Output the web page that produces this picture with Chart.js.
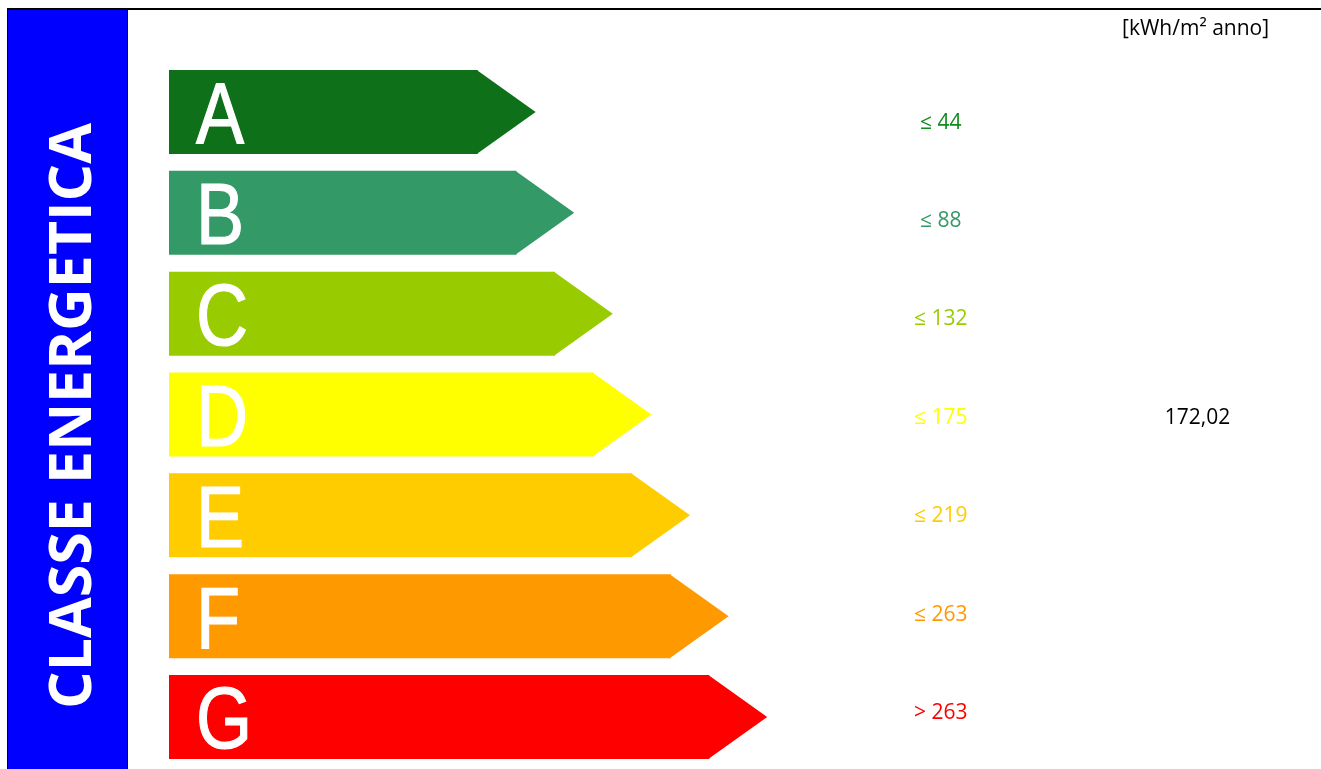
<!DOCTYPE html>
<html>
<head>
<meta charset="utf-8">
<script src="https://cdn.jsdelivr.net/npm/chart.js@4.4.1/dist/chart.umd.min.js"></script>
<style>
html, body { margin: 0; padding: 0; background: #fff; width: 1321px; height: 769px; overflow: hidden; }
#topline { position: absolute; left: 7px; top: 8px; width: 1314px; height: 2px; background: #000; }
#panel { position: absolute; left: 7px; top: 10px; width: 119px; height: 759px; background: #0000ff; border-left: 1px solid #000; border-right: 1px solid #000; }
#panel span { position: absolute; left: 60px; top: 406px; transform: translate(-50%, -50%) rotate(-90deg); white-space: nowrap; color: #fff; font: bold 59px 'Open Sans'; }
#wrap { position: absolute; left: 128px; top: 10px; width: 1193px; height: 759px; }
</style>
</head>
<body>
<div id="topline"></div>
<div id="panel"><span>CLASSE ENERGETICA</span></div>
<div id="wrap"><canvas id="energyChart" width="1193" height="759"></canvas></div>
<script>
var classes = ['A', 'B', 'C', 'D', 'E', 'F', 'G'];
var classLengths = [8, 9, 10, 11, 12, 13, 14];
var thresholdLabels = ['≤ 44', '≤ 88', '≤ 132', '≤ 175', '≤ 219', '≤ 263', '> 263'];
var classColors = ['#0e711a', '#339966', '#99cc00', '#ffff00', '#ffcc00', '#ff9900', '#ff0000'];
var labelColors = ['#128a1e', '#339966', '#99cc00', '#ffff00', '#ffcc00', '#ff9900', '#ff0000'];
var buildingValue = '172,02';
var buildingClass = 'D';
var unitLabel = '[kWh/m² anno]';

// the text column rows are a bit tighter than the bars (in category units)
var labelRowStart = 0.105, labelRowStep = 0.976;

// arrow head on the end of every bar, and the class letter inside it
var arrowTips = {
    id: 'arrowTips',
    afterDatasetsDraw: function(chart) {
        var ctx = chart.ctx, x = chart.scales.x;
        var tip = x.getPixelForValue(1.5) - x.getPixelForValue(0);
        chart.getDatasetMeta(0).data.forEach(function(bar, i) {
            var h = bar.height / 2;
            ctx.save();
            ctx.fillStyle = classColors[i];
            ctx.beginPath();
            ctx.moveTo(bar.x - 1, bar.y - h);
            ctx.lineTo(bar.x + tip, bar.y);
            ctx.lineTo(bar.x - 1, bar.y + h);
            ctx.closePath();
            ctx.fill();
            // narrow letter: Liberation Sans squeezed like Arial Narrow
            ctx.fillStyle = '#fff';
            ctx.strokeStyle = '#fff';
            ctx.lineWidth = 1.2;
            ctx.lineJoin = 'miter';
            ctx.font = "88px 'Liberation Sans', Arial, sans-serif";
            ctx.textAlign = 'left';
            ctx.textBaseline = 'alphabetic';
            ctx.translate(bar.base + 27, bar.y + 31.5);
            ctx.scale(0.82, 1);
            ctx.fillText(classes[i], 0, 0);
            ctx.strokeText(classes[i], 0, 0);
            ctx.restore();
        });
    }
};

var sideLabels = {
    id: 'sideLabels',
    afterDraw: function(chart) {
        var ctx = chart.ctx, x = chart.scales.x, y = chart.scales.y;
        var rowY = function(i) { return y.getPixelForValue(labelRowStart + i * labelRowStep); };
        ctx.save();
        ctx.font = '21px "Open Sans"';
        ctx.textAlign = 'center';
        ctx.textBaseline = 'middle';
        thresholdLabels.forEach(function(t, i) {
            ctx.fillStyle = labelColors[i];
            ctx.fillText(t, x.getPixelForValue(20), rowY(i));
        });
        ctx.fillStyle = '#000';
        ctx.fillText(buildingValue, x.getPixelForValue(26.65), rowY(classes.indexOf(buildingClass)));
        ctx.fillText(unitLabel, x.getPixelForValue(26.6), chart.chartArea.top - 32.5);
        ctx.restore();
    }
};

var energyChart = new Chart(document.getElementById('energyChart').getContext('2d'), {
    type: 'bar',
    data: {
        labels: classes,
        datasets: [{
            data: classLengths,
            backgroundColor: classColors,
            borderWidth: 0,
            categoryPercentage: 1,
            barPercentage: 0.833
        }]
    },
    options: {
        indexAxis: 'y',
        responsive: false,
        animation: false,
        layout: {
            padding: { left: 41, top: 51.6, right: 0, bottom: 1.6 }
        },
        plugins: {
            legend: { display: false },
            tooltip: { enabled: false }
        },
        scales: {
            x: { display: false, min: 0, max: 29.85 },
            y: { display: false }
        }
    },
    plugins: [arrowTips, sideLabels]
});
</script>
</body>
</html>
